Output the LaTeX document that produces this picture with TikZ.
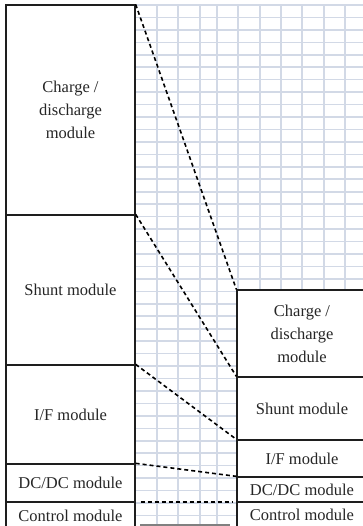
\documentclass[tikz,border=0pt]{standalone}
\usepackage{fontspec}
\setmainfont{Liberation Serif}
\definecolor{gridc}{RGB}{210,217,230}
\definecolor{edgec}{RGB}{30,30,30}
\begin{document}
\begin{tikzpicture}[x=1pt,y=-1pt,
  modbox/.style={draw=edgec, line width=1.3pt, fill=white, inner sep=0pt, align=center,
    font=\fontsize{16.5}{23}\selectfont, text=black!85},
  link/.style={line width=1.6pt, dash pattern=on 4pt off 3pt, black},
  gridline/.style={draw=gridc, line width=1.6pt}]
\useasboundingbox (0,0) rectangle (362,526);
% grid background
\foreach \gx in {157,178,200,217,238,260,281,302,324,345}
  \draw[gridline] (\gx,5) -- (\gx,530);
\foreach \k in {0,...,42}
  \draw[gridline] (135,5+12.45*\k) -- (365,5+12.45*\k);
% left column
\node[modbox, minimum width=129pt, minimum height=210pt] (L1) at (70.5,110) {Charge /\\discharge\\module};
\node[modbox, minimum width=129pt, minimum height=150pt] (L2) at (70.5,290) {Shunt module};
\node[modbox, minimum width=129pt, minimum height=99pt] (L3) at (70.5,414.5) {I/F module};
\node[modbox, minimum width=129pt, minimum height=38pt] (L4) at (70.5,483) {DC/DC module};
\node[modbox, minimum width=129pt, minimum height=32pt, anchor=north] (L5) at (70.5,502) {};
\node (L5t) at (70.5,516) {\fontsize{16.5}{23}\selectfont\color{black!85}Control module};
% right column
\node[modbox, minimum width=130pt, minimum height=87pt] (R1) at (302,333.5) {Charge /\\discharge\\module};
\node[modbox, minimum width=130pt, minimum height=63pt] (R2) at (302,408.5) {Shunt module};
\node[modbox, minimum width=130pt, minimum height=37pt] (R3) at (302,458.5) {I/F module};
\node[modbox, minimum width=130pt, minimum height=25pt] (R4) at (302,489.5) {DC/DC module};
\node[modbox, minimum width=130pt, minimum height=32pt, anchor=north] (R5) at (302,502) {};
\node (R5t) at (302,515) {\fontsize{16.5}{23}\selectfont\color{black!85}Control module};
% connectors
\draw[link] (L1.north east) -- (R1.north west);
\draw[link] (L2.north east) -- (R2.north west);
\draw[link] (L3.north east) -- (R3.north west);
\draw[link] (L4.north east) -- (R4.north west);
\draw[link, shorten <=5pt, shorten >=4pt] (L5.north east) -- (R5.north west);
% bottom grey mark
\coordinate (b1) at (140,525);
\coordinate (b2) at (230,525);
\draw[gray, line width=1.2pt] (b1) -- (b2);
\end{tikzpicture}
\end{document}
